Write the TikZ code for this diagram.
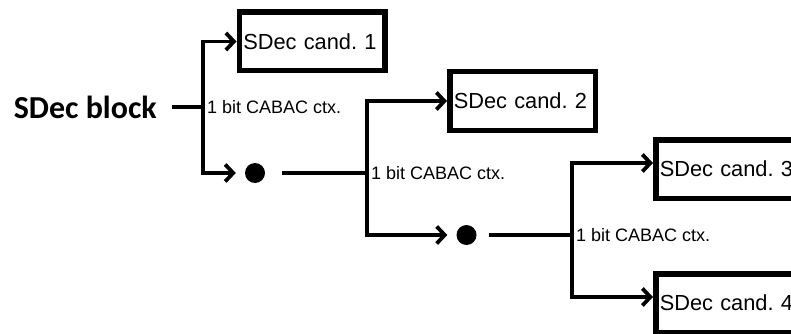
\documentclass[tikz,border=0pt]{standalone}
\usepackage{fontspec}
\setmainfont{Liberation Sans}
\newfontfamily\blockfont{Carlito}
\usetikzlibrary{positioning,arrows.meta}
\frenchspacing

\begin{document}
\begin{tikzpicture}[x=1pt, y=-1pt, every node/.style={font=\fontsize{18}{20}\selectfont},
  cand/.style={rectangle, draw, line width=5.5pt, text width=137.5pt, align=left, inner xsep=4pt,
    inner ysep=0pt, minimum height=58.5pt, font=\fontsize{21.8}{24}\selectfont},
  dot/.style={circle, fill, inner sep=0pt, minimum size=20pt},
  ctx/.style={inner sep=0pt},
  conn/.style={line width=3.8pt},
  arr/.style={conn, -{Straight Barb[length=8pt, width=17pt]}}]
  \useasboundingbox (0,0) rectangle (791,334);
  \clip (0,0) rectangle (791,334);
  \node[anchor=east, inner sep=0pt, font=\blockfont\bfseries\fontsize{32}{34}\selectfont] (block) at (157,107) {SDec block};
  \coordinate (split1) at (203,107);
  \coordinate (split2) at (367,173);
  \coordinate (split3) at (572,235);
  \node[cand] (cand1) at (312,41.5) {\mbox{SDec cand. 1}};
  \node[cand] (cand2) at (522.5,101) {\mbox{SDec cand. 2}};
  \node[cand] (cand3) at (728.5,169) {\mbox{SDec cand. 3}};
  \node[cand] (cand4) at (728.5,303) {\mbox{SDec cand. 4}};
  \node[dot] (dot1) at (255,173) {};
  \node[dot] (dot2) at (466.5,235) {};
  \node[ctx, right=4pt of split1] (ctx1) {1 bit CABAC ctx.};
  \node[ctx, right=4pt of split2] (ctx2) {1 bit CABAC ctx.};
  \node[ctx, right=4pt of split3] (ctx3) {1 bit CABAC ctx.};
  \draw[conn, shorten <=15pt] (block.east) -- (split1);
  \draw[arr] (split1) |- (cand1.west);
  \draw[arr, shorten >=9pt] (split1) |- (dot1.west);
  \draw[conn, shorten <=17pt] (dot1.east) -- (split2);
  \draw[arr] (split2) |- (cand2.west);
  \draw[arr, shorten >=9pt] (split2) |- (dot2.west);
  \draw[conn, shorten <=12pt] (dot2.east) -- (split3);
  \draw[arr] (split3) |- ([yshift=6pt]cand3.west);
  \draw[arr] (split3) |- ([yshift=6pt]cand4.west);
\end{tikzpicture}
\end{document}
